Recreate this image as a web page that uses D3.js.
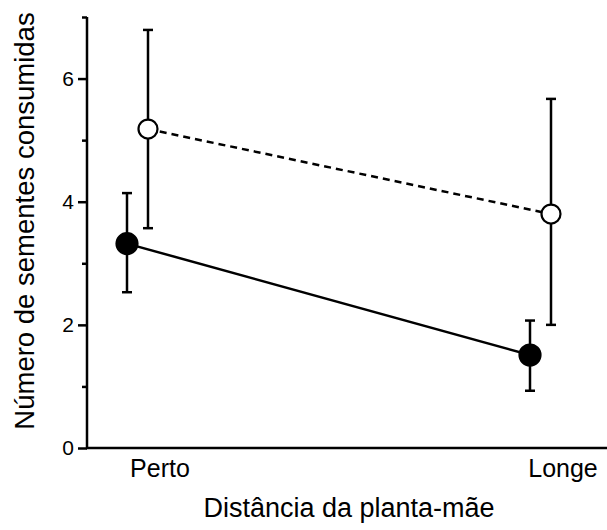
<!DOCTYPE html>
<html><head><meta charset="utf-8">
<script src="https://cdn.jsdelivr.net/npm/d3@7"></script>
<style>body{margin:0;background:#fff}svg{display:block}</style>
</head><body>
<script>
const categories = ["Perto", "Longe"];
const filledMean = [3.32, 1.51];
const filledHigh = [4.14, 2.07];
const filledLow  = [2.53, 0.93];
const openMean = [5.18, 3.80];
const openHigh = [6.79, 5.67];
const openLow  = [3.57, 2.00];
const yTicks = [0, 2, 4, 6];
const yMinorTicks = [1, 3, 5, 7];
const xTitle = "Distância da planta-mãe";
const yTitle = "Número de sementes consumidas";

const W = 607, H = 530;
const svg = d3.select("body").append("svg").attr("width", W).attr("height", H);
const font = "'Liberation Sans', Arial, Helvetica, sans-serif";

const y = d3.scaleLinear().domain([0, 7]).range([448, 17]);
const x = d3.scalePoint().domain(categories).range([160, 563]);
const offFilled = -33, offOpen = -12;

// axes
const yAxis = svg.append("g").attr("transform", "translate(87,0)")
  .call(d3.axisLeft(y).tickValues(yTicks).tickSize(9).tickPadding(4).tickFormat(d3.format("d")));
yAxis.select(".domain").remove();
yAxis.selectAll("line").attr("stroke", "#000").attr("stroke-width", 2.5);
yAxis.selectAll("text").attr("font-family", font).attr("font-size", 21).attr("fill", "#000");
svg.append("g").attr("transform", "translate(87,0)")
  .call(d3.axisLeft(y).tickValues(yMinorTicks).tickSize(5).tickFormat(""))
  .call(g => g.select(".domain").remove())
  .selectAll("line").attr("stroke", "#000").attr("stroke-width", 2.5);
svg.append("line").attr("x1", 87).attr("x2", 87).attr("y1", y(7)).attr("y2", y(0))
  .attr("stroke", "#000").attr("stroke-width", 2.5);
svg.append("line").attr("x1", 86).attr("x2", 607).attr("y1", y(0)).attr("y2", y(0))
  .attr("stroke", "#000").attr("stroke-width", 2.5);

// x labels
svg.append("g").selectAll("text").data(categories).join("text")
  .attr("x", d => x(d)).attr("y", 477).attr("text-anchor", "middle")
  .attr("font-family", font).attr("font-size", 25).text(d => d);

svg.append("text").attr("x", 349).attr("y", 517).attr("text-anchor", "middle")
  .attr("font-family", font).attr("font-size", 27).text(xTitle);
svg.append("text").attr("transform", "translate(34,221) rotate(-90)").attr("text-anchor", "middle")
  .attr("font-family", font).attr("font-size", 27.5).text(yTitle);

// lines
const line = d3.line().x(d => d[0]).y(d => d[1]);
svg.append("path")
  .attr("d", line(categories.map((c, i) => [x(c) + offOpen, y(openMean[i])])))
  .attr("fill", "none").attr("stroke", "#000").attr("stroke-width", 2.5).attr("stroke-dasharray", "7,5");
svg.append("path")
  .attr("d", line(categories.map((c, i) => [x(c) + offFilled, y(filledMean[i])])))
  .attr("fill", "none").attr("stroke", "#000").attr("stroke-width", 2.5);

function errorBars(mean, hi, lo, off, fill) {
  const g = svg.append("g");
  categories.forEach((c, i) => {
    const cx = x(c) + off;
    g.append("line").attr("x1", cx).attr("x2", cx).attr("y1", y(hi[i])).attr("y2", y(lo[i]))
      .attr("stroke", "#000").attr("stroke-width", 2.5);
    [hi[i], lo[i]].forEach(v => g.append("line").attr("x1", cx - 5).attr("x2", cx + 5)
      .attr("y1", y(v)).attr("y2", y(v)).attr("stroke", "#000").attr("stroke-width", 2.5));
    g.append("circle").attr("cx", cx).attr("cy", y(mean[i])).attr("r", fill ? 10.5 : 9.5)
      .attr("fill", fill ? "#000" : "#fff").attr("stroke", "#000").attr("stroke-width", 2.2);
  });
}
errorBars(filledMean, filledHigh, filledLow, offFilled, true);
errorBars(openMean, openHigh, openLow, offOpen, false);
</script>
</body></html>
